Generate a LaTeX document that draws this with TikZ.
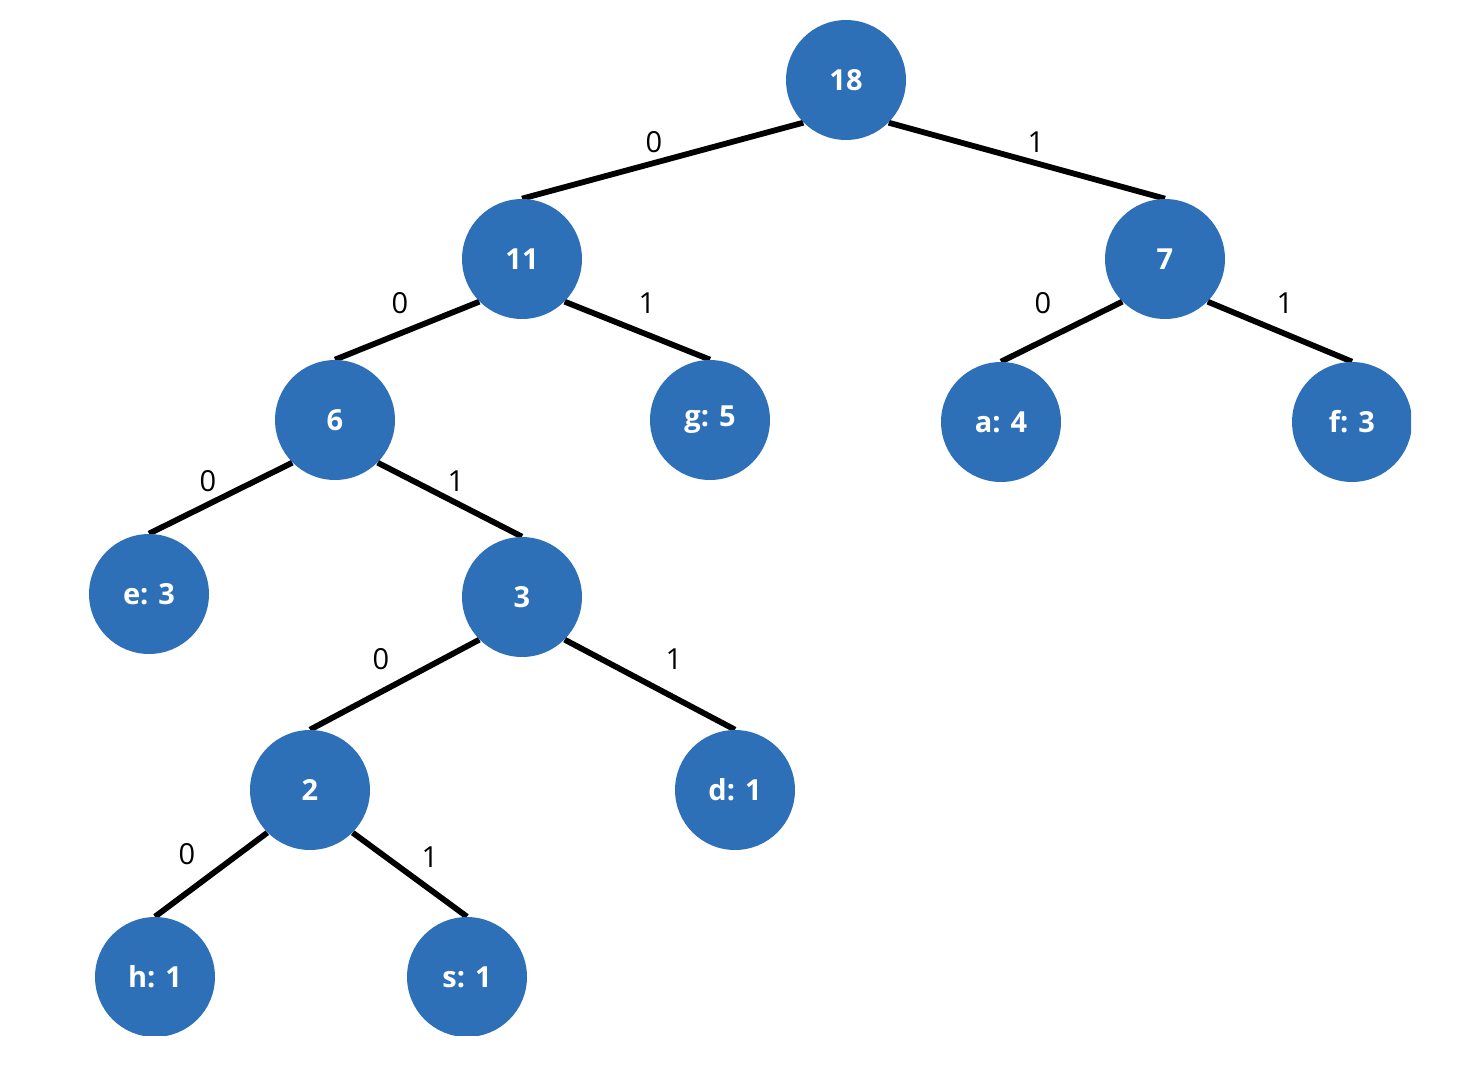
\documentclass[tikz,border=0pt]{standalone}
\usepackage{fontspec}
\setmainfont{Open Sans}
\usepackage{tikz}
\usetikzlibrary{backgrounds}
\definecolor{huffblue}{HTML}{2E70B8}

\begin{document}
\begin{tikzpicture}[x=0.02cm, y=-0.02cm,
  weight/.style={circle, fill=huffblue, minimum size=2.4cm, inner sep=0pt, text=white, font=\fontsize{16.5}{18}\selectfont\bfseries},
  bit/.style={inner sep=0pt, font=\fontsize{16.5}{18}\selectfont},
  branch/.style={line width=3.3pt}]
  \useasboundingbox (0,0) rectangle (1464,1072);
  \begin{scope}
    \clip (0,0) rectangle (1411,1035);
    \node[weight] (n18) at (846,80) {18};
    \node[weight] (n11) at (522,259) {11};
    \node[weight] (n7) at (1165,259) {7};
    \node[weight] (n6) at (335,420) {6};
    \node[weight] (g) at (710,420) {g: 5};
    \node[weight] (a) at (1001,422) {a: 4};
    \node[weight] (f) at (1352,422) {f: 3};
    \node[weight] (e) at (149,594) {e: 3};
    \node[weight] (n3) at (522,597) {3};
    \node[weight] (n2) at (310,790) {2};
    \node[weight] (d) at (735,790) {d: 1};
    \node[weight] (h) at (155,977) {h: 1};
    \node[weight] (s) at (467,977) {s: 1};
  \end{scope}
  \begin{scope}[on background layer]
    \draw[branch] (n18.south west) -- (n11.north);
    \draw[branch] (n18.south east) -- (n7.north);
    \draw[branch] (n11.south west) -- (n6.north);
    \draw[branch] (n11.south east) -- (g.north);
    \draw[branch] (n7.south west) -- (a.north);
    \draw[branch] (n7.south east) -- (f.north);
    \draw[branch] (n6.south west) -- (e.north);
    \draw[branch] (n6.south east) -- (n3.north);
    \draw[branch] (n3.south west) -- (n2.north);
    \draw[branch] (n3.south east) -- (d.north);
    \draw[branch] (n2.south west) -- (h.north);
    \draw[branch] (n2.south east) -- (s.north);
  \end{scope}
  % edge codes
  \node[bit] (b18l) at (654,142) {0};
  \node[bit] (b18r) at (1036,142) {1};
  \node[bit] (b11l) at (400,303) {0};
  \node[bit] (b11r) at (647,303) {1};
  \node[bit] (b7l) at (1043,303) {0};
  \node[bit] (b7r) at (1285,303) {1};
  \node[bit] (b6l) at (208,481) {0};
  \node[bit] (b6r) at (456,481) {1};
  \node[bit] (b3l) at (381,659) {0};
  \node[bit] (b3r) at (674,659) {1};
  \node[bit] (b2l) at (187,854) {0};
  \node[bit] (b2r) at (430,857) {1};
\end{tikzpicture}
\end{document}
